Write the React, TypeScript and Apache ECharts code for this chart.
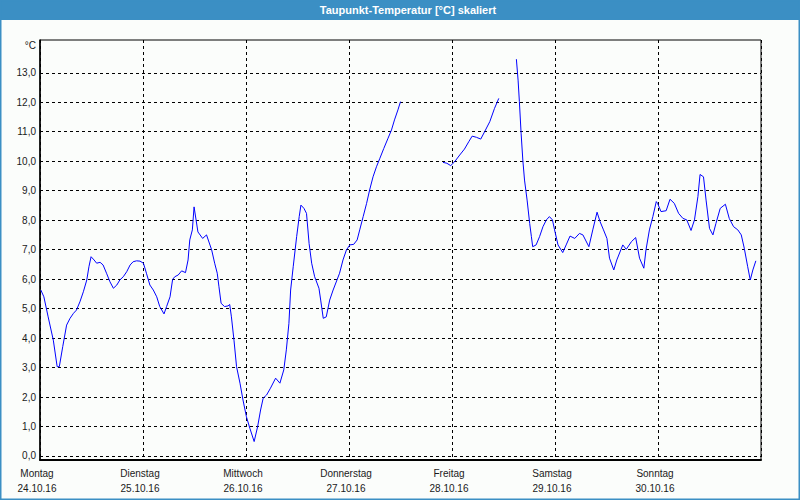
import React, { useEffect, useRef } from "react";
import * as echarts from "echarts";

const TITLE = "Taupunkt-Temperatur [°C] skaliert";
const DAY_NAMES = ["Montag", "Dienstag", "Mittwoch", "Donnerstag", "Freitag", "Samstag", "Sonntag"];
const DAY_DATES = ["24.10.16", "25.10.16", "26.10.16", "27.10.16", "28.10.16", "29.10.16", "30.10.16"];
const Y_TICKS = [0, 1, 2, 3, 4, 5, 6, 7, 8, 9, 10, 11, 12, 13];

// hours since Monday 00:00
const HOURS_1 = [0.2, 0.9, 1.9, 3.1, 4.0, 4.5, 5.3, 6.2, 7.0, 7.8, 8.5, 9.3, 10.1, 10.9, 11.4, 11.9, 12.6, 13.2, 14.0, 14.7, 15.5, 16.3, 17.1, 17.9, 18.6, 19.4, 20.2, 21.0, 21.7, 22.5, 23.3, 24.1, 24.8, 25.6, 26.4, 27.2, 27.9, 28.9, 29.5, 30.3, 30.9, 31.4, 32.2, 33.0, 33.9, 34.5, 34.9, 35.5, 35.9, 36.8, 37.9, 38.8, 40.0, 40.7, 41.3, 41.7, 42.2, 43.0, 43.8, 44.2, 44.6, 45.2, 45.8, 46.6, 47.3, 48.1, 48.9, 49.9, 50.7, 51.4, 52.0, 52.8, 53.7, 54.9, 55.9, 56.8, 57.4, 58.0, 58.4, 59.0, 59.8, 60.4, 60.8, 61.5, 62.1, 62.7, 63.3, 64.0, 65.0, 65.4, 66.0, 66.7, 67.5, 68.3, 69.2, 69.8, 70.6, 71.4, 72.2, 73.1, 73.9, 74.5, 75.3, 76.1, 76.8, 77.6, 78.4, 79.2, 80.1, 81.1, 81.9, 82.6, 83.4, 84.0];
const VALUES_1 = [5.63, 5.40, 4.72, 3.93, 3.03, 3.03, 3.71, 4.44, 4.67, 4.84, 4.95, 5.23, 5.57, 5.97, 6.42, 6.76, 6.65, 6.54, 6.57, 6.48, 6.20, 5.91, 5.69, 5.80, 5.97, 6.08, 6.25, 6.48, 6.59, 6.62, 6.61, 6.54, 6.20, 5.80, 5.63, 5.40, 5.07, 4.82, 5.07, 5.40, 5.99, 6.08, 6.14, 6.28, 6.22, 6.65, 7.33, 7.67, 8.45, 7.60, 7.38, 7.50, 6.99, 6.54, 6.20, 5.74, 5.18, 5.07, 5.09, 5.14, 4.72, 3.93, 3.03, 2.47, 1.90, 1.33, 0.94, 0.49, 0.99, 1.56, 1.96, 2.07, 2.30, 2.64, 2.47, 2.92, 3.60, 4.50, 5.63, 6.42, 7.44, 8.12, 8.51, 8.40, 8.23, 7.21, 6.54, 6.08, 5.69, 5.29, 4.67, 4.72, 5.29, 5.63, 5.97, 6.20, 6.65, 6.99, 7.16, 7.18, 7.33, 7.67, 8.12, 8.57, 9.02, 9.47, 9.81, 10.10, 10.43, 10.78, 11.06, 11.40, 11.74, 12.02];

const HOURS_2 = [93.9, 94.8, 95.7, 96.6, 97.8, 98.9, 99.9, 100.7, 101.7, 102.7, 103.6, 104.8, 105.9, 106.9];
const VALUES_2 = [9.96, 9.93, 9.85, 9.98, 10.21, 10.41, 10.66, 10.85, 10.81, 10.75, 11.00, 11.34, 11.79, 12.13];

const HOURS_3 = [111.0, 111.4, 111.7, 112.1, 112.5, 112.9, 113.5, 114.1, 114.5, 114.8, 115.6, 116.4, 117.2, 118.0, 118.7, 119.4, 119.9, 120.7, 121.8, 122.6, 123.5, 124.6, 125.7, 126.5, 127.9, 128.8, 129.8, 130.5, 131.3, 132.1, 132.7, 133.7, 134.4, 135.8, 136.6, 137.8, 138.8, 139.7, 140.7, 141.2, 142.0, 142.8, 143.6, 143.9, 144.7, 145.9, 146.8, 147.8, 148.8, 149.8, 150.7, 151.7, 152.5, 153.3, 153.8, 154.6, 155.2, 156.0, 156.8, 157.5, 158.5, 159.7, 160.6, 161.6, 162.6, 163.4, 164.1, 164.9, 165.5, 166.1, 166.8];
const VALUES_3 = [13.46, 12.75, 12.02, 10.95, 10.04, 9.36, 8.68, 7.89, 7.44, 7.10, 7.16, 7.44, 7.78, 8.01, 8.12, 8.01, 7.67, 7.16, 6.90, 7.16, 7.46, 7.38, 7.55, 7.50, 7.10, 7.67, 8.27, 7.95, 7.67, 7.38, 6.71, 6.31, 6.65, 7.16, 7.01, 7.27, 7.41, 6.71, 6.37, 6.99, 7.67, 8.12, 8.63, 8.57, 8.29, 8.32, 8.71, 8.57, 8.23, 8.06, 8.01, 7.65, 8.01, 8.80, 9.55, 9.47, 8.68, 7.72, 7.50, 7.89, 8.40, 8.54, 8.06, 7.78, 7.67, 7.50, 7.05, 6.42, 5.97, 6.31, 6.62];

const FONT = "Liberation Sans";

function pairs(h: number[], v: number[]) {
  return h.map((x, i) => [x, v[i]]);
}

export default function App() {
  const ref = useRef<HTMLDivElement>(null);
  useEffect(() => {
    if (!ref.current) return;
    const chart = echarts.init(ref.current, null, { renderer: "svg" });
    const lineSeries = (h: number[], v: number[]) => ({
      type: "line",
      data: pairs(h, v),
      showSymbol: false,
      symbol: "none",
      lineStyle: { color: "#0000ff", width: 1 },
      silent: true,
    });
    chart.setOption({
      animation: false,
      backgroundColor: "#fbfdfb",
      grid: {
        left: 40,
        right: 39,
        top: 40,
        bottom: 40,
        show: true,
        borderColor: "#000",
        borderWidth: 1,
        backgroundColor: "transparent",
      },
      xAxis: {
        type: "value",
        min: 0,
        max: 168,
        interval: 24,
        axisLine: { show: true, onZero: false, lineStyle: { color: "#000", width: 2 } },
        axisTick: { show: false },
        splitLine: { show: true, lineStyle: { color: "#000", type: [3, 3], width: 1 } },
        axisLabel: {
          showMaxLabel: false,
          margin: 6,
          color: "#1a1a1a",
          fontFamily: FONT,
          fontSize: 10,
          lineHeight: 15,
          padding: [0, 6, 0, 0],
          formatter: (val: number) => {
            const i = Math.round(val / 24);
            if (i < 0 || i >= DAY_NAMES.length) return "";
            return DAY_NAMES[i] + "\n" + DAY_DATES[i];
          },
        },
      },
      yAxis: {
        type: "value",
        min: -0.1357,
        max: 14.111,
        axisLine: { show: true, lineStyle: { color: "#000", width: 1.5 } },
        axisTick: { show: false, customValues: Y_TICKS },
        splitLine: { show: true, lineStyle: { color: "#000", type: [3, 3], width: 1 } },
        axisLabel: {
          customValues: Y_TICKS,
          margin: 4,
          color: "#1a1a1a",
          fontFamily: FONT,
          fontSize: 10,
          formatter: (val: number) => val.toFixed(1).replace(".", ","),
        },
      },
      series: [
        lineSeries(HOURS_1, VALUES_1),
        lineSeries(HOURS_2, VALUES_2),
        lineSeries(HOURS_3, VALUES_3),
      ],
      graphic: [
        {
          type: "rect",
          shape: { x: 0, y: 0, width: 800, height: 20 },
          style: { fill: "#3b8fc4" },
          silent: true,
        },
        {
          type: "rect",
          shape: { x: 0.5, y: 0.5, width: 799, height: 499 },
          style: { fill: "none", stroke: "#3b8fc4", lineWidth: 2 },
          silent: true,
        },
        {
          type: "text",
          x: 408,
          y: 10,
          style: {
            text: TITLE,
            fill: "#ffffff",
            font: `bold 11px "${FONT}"`,
            align: "center",
            verticalAlign: "middle",
          },
          silent: true,
        },
        {
          type: "text",
          x: 36,
          y: 45,
          style: {
            text: "°C",
            fill: "#1a1a1a",
            font: `10px "${FONT}"`,
            align: "right",
            verticalAlign: "middle",
          },
          silent: true,
        },
      ],
    });
    return () => chart.dispose();
  }, []);
  return (
    <div
      ref={ref}
      style={{ position: "fixed", left: 0, top: 0, width: 800, height: 500 }}
    />
  );
}
